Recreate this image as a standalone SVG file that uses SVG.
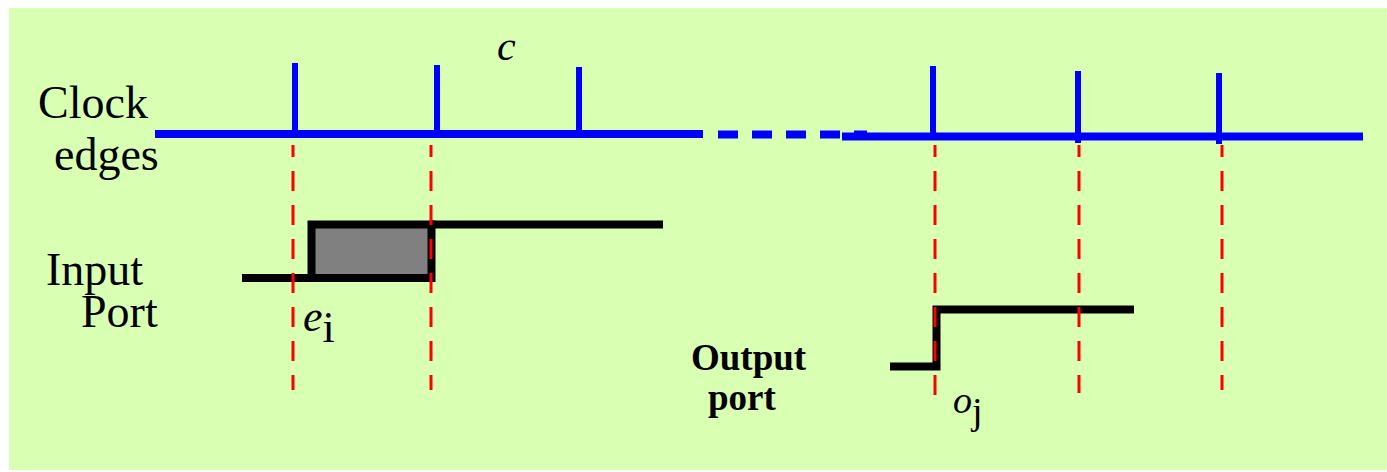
<svg xmlns="http://www.w3.org/2000/svg" width="1387" height="472" viewBox="0 0 1387 472">
  <style>
    text { font-family: "Liberation Serif", "DejaVu Serif", serif; fill: #000; }
    .big { font-size: 46px; }
    .bold { font-size: 37px; font-weight: bold; }
    .it { font-style: italic; }
    .blue { stroke: #0000FF; fill: none; }
    .wave { stroke: #000; stroke-width: 8; fill: none; }
    .guide { stroke: #FF0000; stroke-width: 3; fill: none; stroke-dasharray: 20 14; stroke-dashoffset: 8; }
  </style>
  <rect id="background" x="9" y="8" width="1378" height="462" fill="#D9FFB3"/>

  <g id="clock-edges">
    <path class="blue" stroke-width="8" d="M155,134 H703"/>
    <path class="blue" stroke-width="8" d="M718,134.5 H867" stroke-dasharray="20 14"/>
    <path class="blue" stroke-width="8" d="M842,136.5 H1363"/>
    <g class="blue" stroke-width="6">
      <path d="M295,63 V134"/>
      <path d="M437,65 V134"/>
      <path d="M579,67 V138"/>
      <path d="M933,66 V136"/>
      <path d="M1078,71 V143"/>
      <path d="M1219,73 V144"/>
    </g>
    <text class="big" font-family="Liberation Serif, serif" x="38" y="118">Clock</text>
    <text class="big" font-family="Liberation Serif, serif" x="54" y="170">edges</text>
    <text class="it" font-family="Liberation Serif, serif" font-size="42" x="497" y="60">c</text>
  </g>

  <g id="input-port">
    <rect x="311.5" y="224.5" width="120" height="53.5" fill="#808080" stroke="#000" stroke-width="8"/>
    <path class="wave" d="M242,278 H311.5"/>
    <path class="wave" d="M431.5,224.5 H663"/>
    <text class="big" font-family="Liberation Serif, serif" x="46" y="285">Input</text>
    <text class="big" font-family="Liberation Serif, serif" x="81" y="327">Port</text>
    <text font-family="Liberation Serif, serif" font-size="44" x="303" y="331"><tspan class="it">e</tspan><tspan dy="11">i</tspan></text>
  </g>

  <g id="output-port">
    <path class="wave" d="M890,366.5 H936.5 V309.5 H1134"/>
    <text class="bold" font-family="Liberation Serif, serif" x="691" y="370">Output</text>
    <text class="bold" font-family="Liberation Serif, serif" x="708" y="410">port</text>
    <text font-family="Liberation Serif, serif" font-size="38" x="953" y="413"><tspan class="it">o</tspan><tspan dy="11">j</tspan></text>
  </g>

  <g id="connectors">
    <path class="guide" d="M293,145 V390"/>
    <path class="guide" d="M431,145 V390"/>
    <path class="guide" d="M935,145 V398"/>
    <path class="guide" d="M1079,145 V393"/>
    <path class="guide" d="M1222,145 V390"/>
  </g>
</svg>
